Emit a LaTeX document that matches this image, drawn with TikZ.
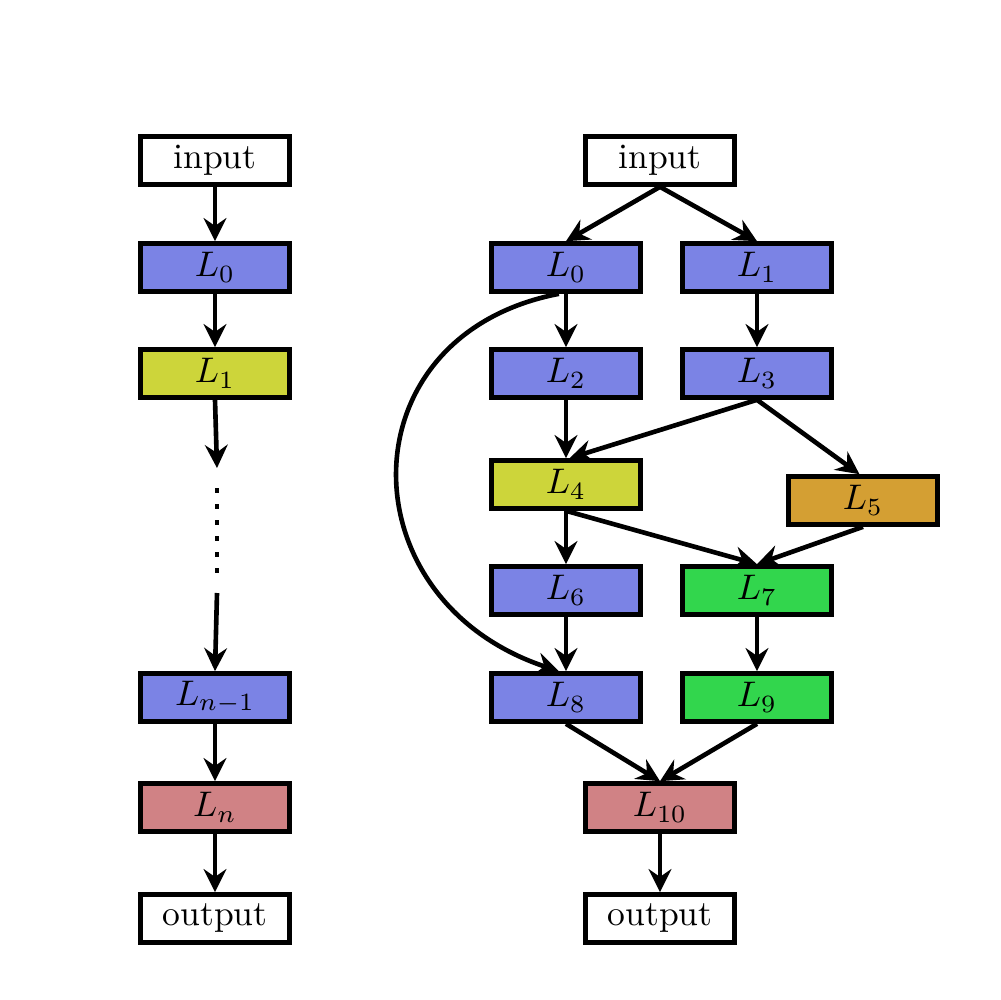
\documentclass[tikz,border=0pt]{standalone}
\usetikzlibrary{arrows.meta}
\definecolor{cblue}{RGB}{123,131,229}
\definecolor{cyel}{RGB}{205,213,58}
\definecolor{corange}{RGB}{212,159,51}
\definecolor{cgreen}{RGB}{50,214,77}
\definecolor{cpink}{RGB}{208,130,133}
\begin{document}
\begin{tikzpicture}[x=0.28125pt,y=-0.28125pt,
  box/.style={draw=black,line width=1.4pt,minimum width=41.8pt,minimum height=13.4pt,inner sep=0pt},
  conn/.style={line width=1.3pt,-{Stealth[length=6.5pt,width=6.4pt,inset=2.2pt]}},
  plain/.style={line width=1.3pt}]
\useasboundingbox (0,0) rectangle (1000,1000);
% left column
\node[box,fill=white] (lin) at (215,160.5) {input};
\node[box,fill=cblue] (lL0) at (215,267.5) {$L_0$};
\node[box,fill=cyel] (lL1) at (215,373.5) {$L_1$};
\node[box,fill=cblue] (lLn1) at (215,697.5) {$L_{n-1}$};
\node[box,fill=cpink] (lLn) at (215,807.5) {$L_n$};
\node[box,fill=white] (lout) at (215,918.5) {output};
\coordinate (d1) at (217,468);
\coordinate (d2) at (217,488);
\coordinate (d3) at (217,575);
\coordinate (d4) at (217,593);
\draw[conn] (lin) -- (lL0);
\draw[conn] (lL0) -- (lL1);
\draw[conn] (lL1.south) -- (d1);
\draw[line width=1.4pt,dash pattern=on 1.4pt off 3.1pt] (d2) -- (d3);
\draw[conn] (d4) -- (lLn1.north);
\draw[conn] (lLn1) -- (lLn);
\draw[conn] (lLn) -- (lout);
% right graph
\node[box,fill=white] (in) at (660,160.5) {input};
\node[box,fill=cblue] (L0) at (566,267.5) {$L_0$};
\node[box,fill=cblue] (L1) at (757,267.5) {$L_1$};
\node[box,fill=cblue] (L2) at (566,373.5) {$L_2$};
\node[box,fill=cblue] (L3) at (757,373.5) {$L_3$};
\node[box,fill=cyel] (L4) at (566,484.5) {$L_4$};
\node[box,fill=corange] (L5) at (863,500.5) {$L_5$};
\node[box,fill=cblue] (L6) at (566,590.5) {$L_6$};
\node[box,fill=cgreen] (L7) at (757,590.5) {$L_7$};
\node[box,fill=cblue] (L8) at (566,697.5) {$L_8$};
\node[box,fill=cgreen] (L9) at (757,697.5) {$L_9$};
\node[box,fill=cpink] (L10) at (660,807.5) {$L_{10}$};
\node[box,fill=white] (out) at (660,918.5) {output};
\draw[conn] (in.south) -- (L0.north);
\draw[conn] (in.south) -- (L1.north);
\draw[conn] (L0) -- (L2);
\draw[conn] (L1) -- (L3);
\draw[conn] (L2) -- (L4);
\draw[conn] (L3.south) -- ([xshift=1pt]L4.north);
\draw[conn] (L3.south) -- ([xshift=-1pt]L5.north);
\draw[conn] (L4) -- (L6);
\draw[conn] (L4.south) -- (L7.north);
\draw[conn] (L5.south) -- (L7.north);
\draw[conn] (L6) -- (L8);
\draw[conn] (L7) -- (L9);
\draw[conn] (L8.south) -- (L10.north);
\draw[conn] (L9.south) -- (L10.north);
\draw[conn] (L10) -- (out);
\draw[conn] ([xshift=-2pt]L0.south) .. controls (344,335) and (344,600) .. ([xshift=-2pt]L8.north);
\end{tikzpicture}
\end{document}
